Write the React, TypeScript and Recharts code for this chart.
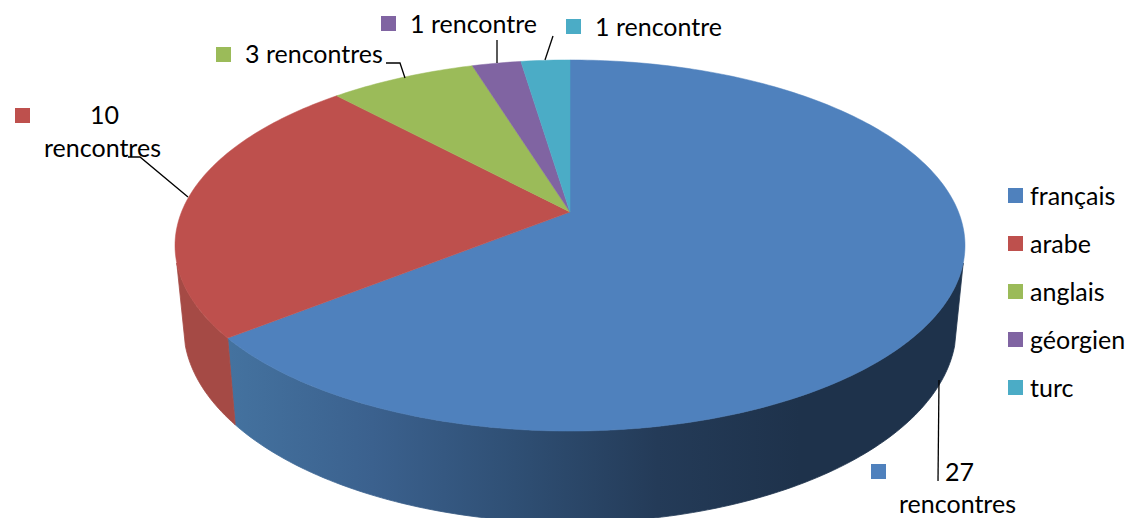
import { Legend, Pie, PieChart } from "recharts";

const languages = ["français", "arabe", "anglais", "géorgien", "turc"];
const meetings = [27, 10, 3, 1, 1];
const colours = ["#4F81BD", "#BE504D", "#9BBB59", "#8064A2", "#4BACC6"];
const wallColours = ["url(#blueWall)", "#A54A45", "#84A04B", "#6D5589", "#4092A8"];

const data = languages.map((name, i) => ({
  name,
  value: meetings[i],
  fill: colours[i],
  wall: wallColours[i],
}));

const FONT = "Lato, Carlito, sans-serif";
const FONT_SIZE = 25;

// perspective of the tilted disc: top rim and bottom rim of the slab
const TILT = 0.1806;
const topRim = { a: 388.5, b: 179.5, y: 212 };
const bottomRim = { a: 380, b: 189, y: 292 };
const WALL_FROM = 105.7;
const WALL_TO = 254.3;

function project(rim: { a: number; b: number; y: number }, cx: number, clock: number) {
  const t = (clock * Math.PI) / 180;
  const u = Math.sin(t);
  const v = Math.cos(t);
  const d = 1 + TILT * v;
  return `${(cx + (rim.a * u) / d).toFixed(2)} ${(rim.y - (rim.b * v) / d).toFixed(2)}`;
}

function arcPoints(rim: { a: number; b: number; y: number }, cx: number, from: number, to: number) {
  const pts: string[] = [];
  const steps = Math.max(2, Math.ceil(Math.abs(to - from)));
  for (let i = 0; i <= steps; i++) {
    pts.push(project(rim, cx, from + ((to - from) * i) / steps));
  }
  return pts;
}

function TopSlice(props: any) {
  const { cx, cy, startAngle, endAngle, fill } = props;
  const pts = arcPoints(topRim, cx, 90 - startAngle, 90 - endAngle);
  return (
    <path
      d={`M${cx} ${cy}L${pts.join("L")}Z`}
      fill={fill}
      stroke={fill}
      strokeWidth={0.5}
    />
  );
}

function WallSlice(props: any) {
  const { cx, startAngle, endAngle, wall } = props;
  const from = Math.max(90 - startAngle, WALL_FROM);
  const to = Math.min(90 - endAngle, WALL_TO);
  if (to <= from) return <g />;
  const upper = arcPoints(topRim, cx, from, to);
  const lower = arcPoints(bottomRim, cx, to, from);
  return (
    <path
      d={`M${upper.join("L")}L${lower.join("L")}Z`}
      fill={wall}
      stroke={wall}
      strokeWidth={0.8}
    />
  );
}

// where each slice's label sits, and its leader line
const labelLayout = [
  { box: [871, 464], lines: [["27", 945, 481], ["rencontres", 899, 513]], leader: "M939 380L938 481" },
  { box: [15, 108], lines: [["10", 90, 124], ["rencontres", 44, 157]], leader: "M188 197L140 157L128 157" },
  { box: [216, 47], lines: [["3 rencontres", 245, 63]], leader: "M405 78L400 63L386 63" },
  { box: [381, 16], lines: [["1 rencontre", 410, 33]], leader: "M497 63L497 40" },
  { box: [566, 19], lines: [["1 rencontre", 595, 36]], leader: "M545 60L553 36" },
];

function SliceLabel(props: any) {
  const { index } = props;
  const l = labelLayout[index];
  return (
    <g>
      <path d={l.leader} fill="none" stroke="#000" strokeWidth={1.3} />
      <rect x={l.box[0]} y={l.box[1]} width={15} height={15} fill={colours[index]} />
      {l.lines.map(([t, x, y]) => (
        <text key={String(t)} x={x} y={y} fontFamily={FONT} fontSize={FONT_SIZE} fill="#000">
          {t}
        </text>
      ))}
    </g>
  );
}

function LegendList({ payload }: any) {
  const items = (payload || []).filter((p: any) => p.type !== "none");
  return (
    <div>
      {items.map((p: any) => (
        <div
          key={p.value}
          style={{ height: 48, display: "flex", alignItems: "center", fontFamily: FONT, fontSize: FONT_SIZE, color: "#000" }}
        >
          <span style={{ width: 15, height: 15, background: p.color, marginRight: 7, flexShrink: 0 }} />
          <span>{p.value}</span>
        </div>
      ))}
    </div>
  );
}

export default function App() {
  return (
    <div style={{ position: "absolute", left: 0, top: 0, width: 1126, height: 518, overflow: "hidden", background: "#fff" }}>
      <PieChart width={1126} height={518} margin={{ top: 0, right: 0, bottom: 0, left: 0 }}>
        <defs>
          <linearGradient id="blueWall" gradientUnits="userSpaceOnUse" x1="230" y1="0" x2="800" y2="0">
            <stop offset="0%" stopColor="#44729F" />
            <stop offset="25%" stopColor="#3B618E" />
            <stop offset="50%" stopColor="#2F4F74" />
            <stop offset="75%" stopColor="#243B58" />
            <stop offset="100%" stopColor="#1E324B" />
          </linearGradient>
        </defs>
        <Pie
          data={data}
          dataKey="value"
          nameKey="name"
          cx={570}
          cy={212}
          outerRadius={150}
          startAngle={90}
          endAngle={-270}
          legendType="none"
          shape={WallSlice}
          isAnimationActive={false}
        />
        <Pie
          data={data}
          dataKey="value"
          nameKey="name"
          cx={570}
          cy={212}
          outerRadius={150}
          startAngle={90}
          endAngle={-270}
          legendType="square"
          shape={TopSlice}
          label={SliceLabel}
          labelLine={false}
          isAnimationActive={false}
        />
        <Legend
          layout="vertical"
          align="center"
          verticalAlign="middle"
          itemSorter={null}
          content={LegendList}
          wrapperStyle={{ left: 1008, top: 171, width: 118 }}
        />
      </PieChart>
    </div>
  );
}
